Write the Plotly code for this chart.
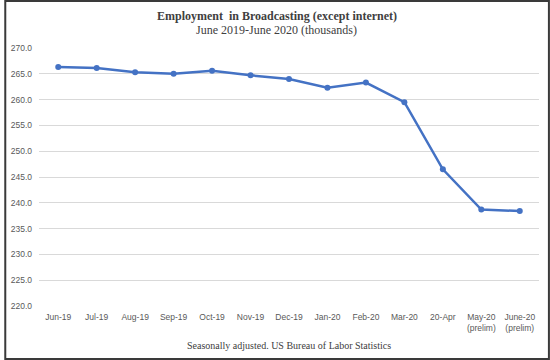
import plotly.graph_objects as go

categories = ["Jun-19", "Jul-19", "Aug-19", "Sep-19", "Oct-19", "Nov-19", "Dec-19",
              "Jan-20", "Feb-20", "Mar-20", "20-Apr", "May-20<br>(prelim)", "June-20<br>(prelim)"]
employment = [266.3, 266.1, 265.3, 265.0, 265.6, 264.7, 264.0, 262.3, 263.3, 259.5, 246.5, 238.7, 238.4]
y_ticks = [220, 225, 230, 235, 240, 245, 250, 255, 260, 265, 270]

W, H = 550, 360
ml, mr, mt, mb = 35, 11, 48, 54
pw, ph = W - ml - mr, H - mt - mb

fig = go.Figure(go.Scatter(
    x=categories, y=employment, mode="lines+markers",
    line=dict(color="#4472C4", width=2.5),
    marker=dict(color="#4472C4", size=6),
    hoverinfo="x+y",
))

fig.update_layout(
    width=W, height=H,
    margin=dict(l=ml, r=mr, t=mt, b=mb),
    paper_bgcolor="white", plot_bgcolor="white",
    showlegend=False,
    font=dict(family="Liberation Sans, Arial", size=9, color="#595959"),
    xaxis=dict(type="category", range=[-0.5, 12.5], showgrid=False, zeroline=False,
               showline=False, ticks="", tickfont=dict(size=8.5, color="#595959"),
               ticklabelstandoff=4),
    yaxis=dict(range=[220, 270], tickvals=y_ticks, tickformat=".1f",
               showgrid=True, gridcolor="#d9d9d9", gridwidth=1, zeroline=False,
               showline=False, ticks="", tickfont=dict(size=8.5, color="#595959"),
               ticklabelstandoff=6),
    annotations=[
        dict(text="<b>Employment  in Broadcasting (except internet)</b>", xref="paper", yref="paper",
             x=(275 - ml) / pw, y=1 + (mt - 16) / ph, xanchor="center", yanchor="middle",
             showarrow=False, font=dict(family="Liberation Serif, Times New Roman", size=12, color="#404040")),
        dict(text="June 2019-June 2020 (thousands)", xref="paper", yref="paper",
             x=(274 - ml) / pw, y=1 + (mt - 30) / ph, xanchor="center", yanchor="middle",
             showarrow=False, font=dict(family="Liberation Serif, Times New Roman", size=12, color="#404040")),
        dict(text="Seasonally adjusted. US Bureau of Labor Statistics", xref="paper", yref="paper",
             x=(287 - ml) / pw, y=-(345 - (H - mb)) / ph, xanchor="center", yanchor="middle",
             showarrow=False, font=dict(family="Liberation Serif, Times New Roman", size=10, color="#404040")),
    ],
    shapes=[dict(type="rect", xref="paper", yref="paper",
                 x0=-(ml - 1) / pw, x1=1 + (mr - 1) / pw,
                 y0=-(mb - 1) / ph, y1=1 + (mt - 1) / ph,
                 line=dict(color="#3a3a3a", width=2), fillcolor="rgba(0,0,0,0)")],
)

fig.write_html("out.html", config={"displayModeBar": False},
               post_script="document.body.style.margin='0';document.body.style.overflow='hidden';")
